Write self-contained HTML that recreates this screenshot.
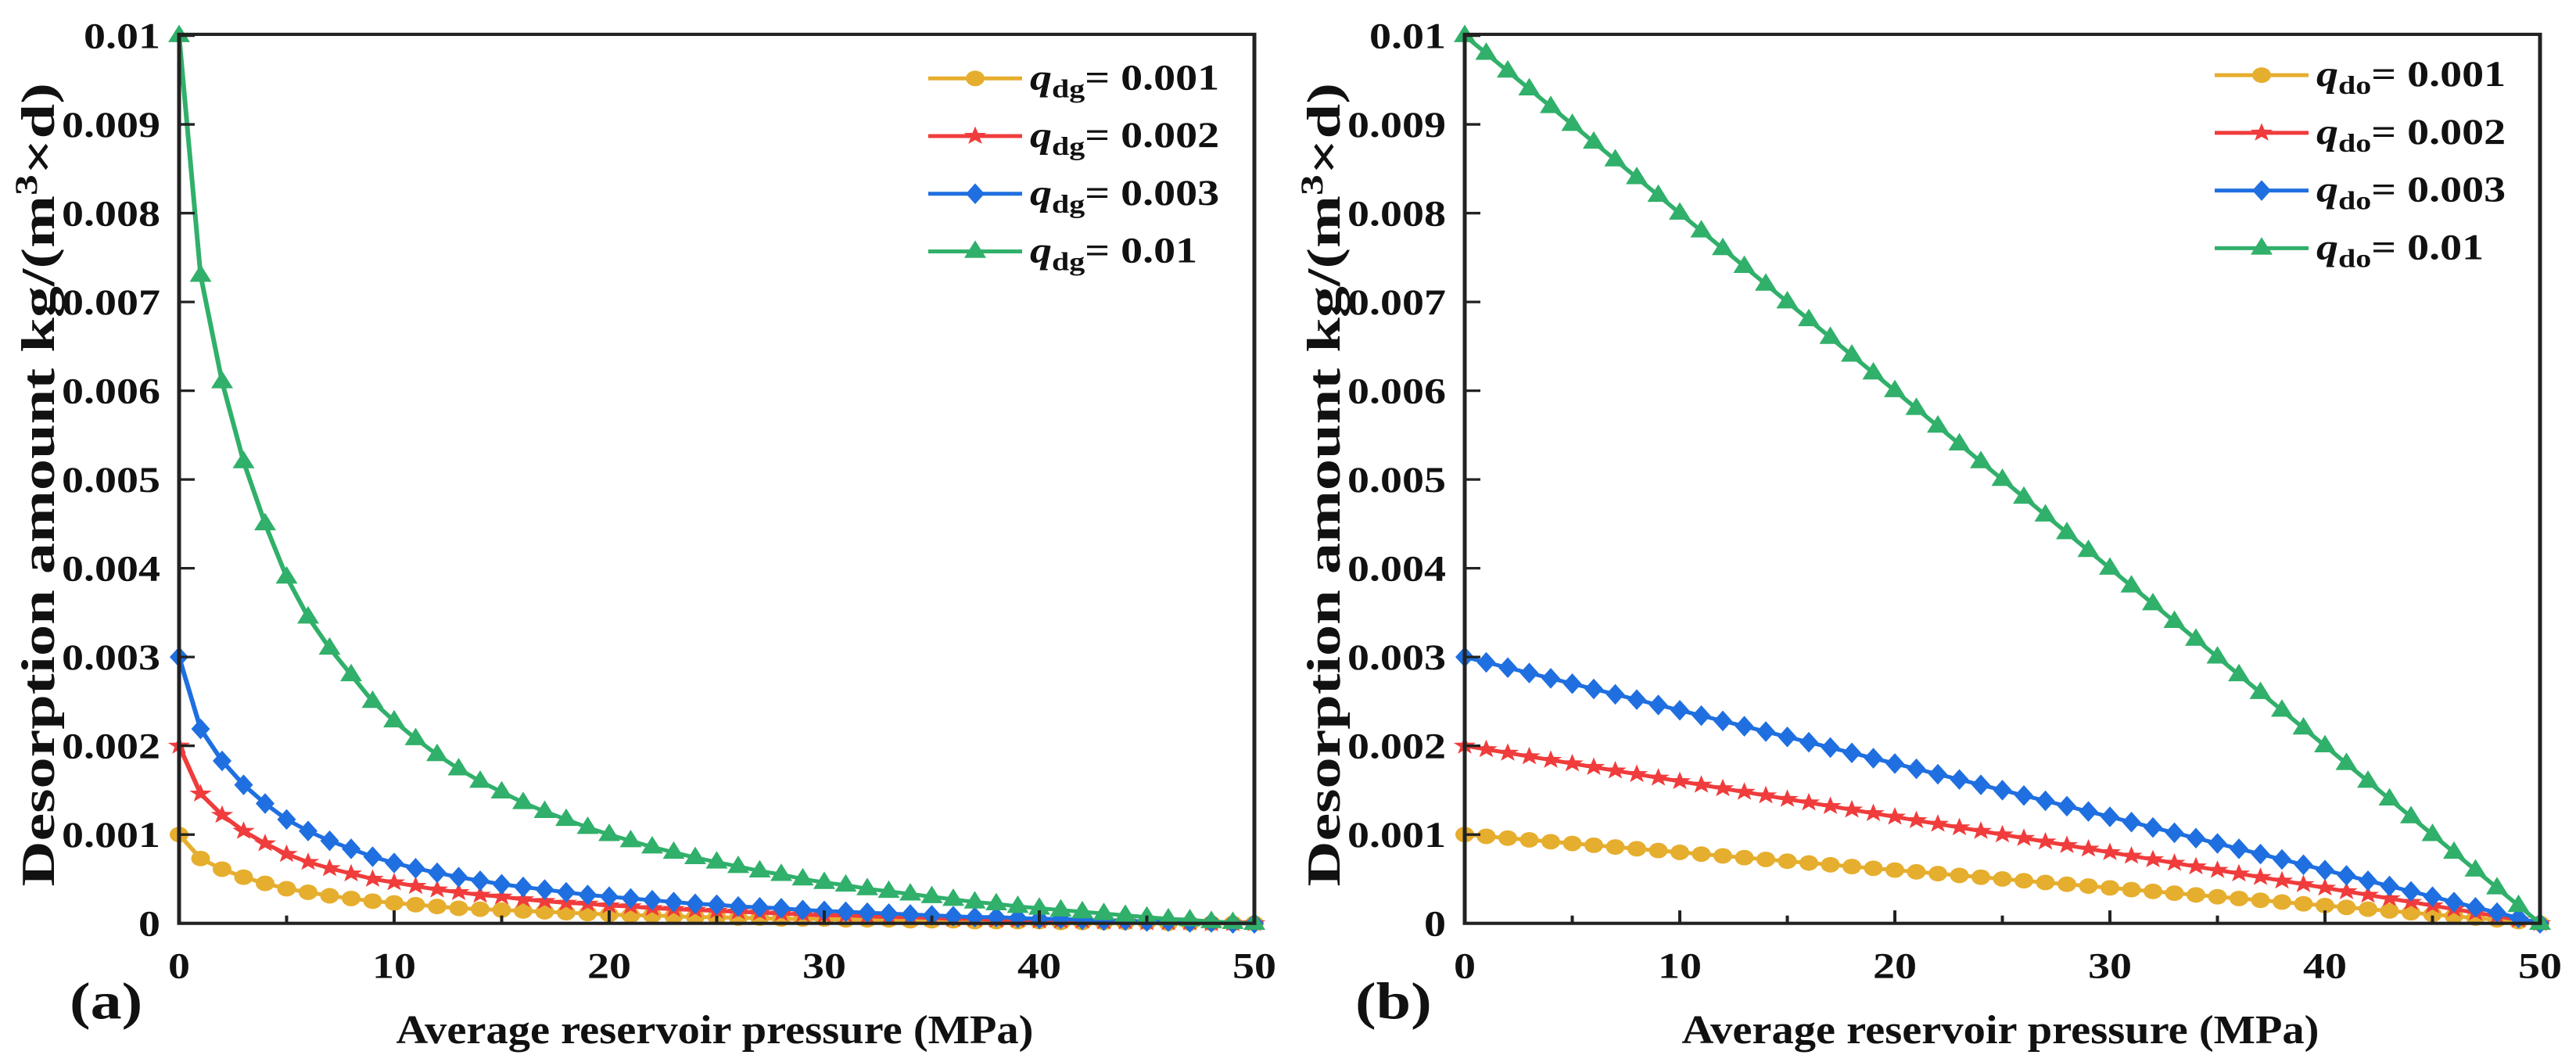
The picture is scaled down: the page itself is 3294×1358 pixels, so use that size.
<!DOCTYPE html>
<html><head><meta charset="utf-8"><style>
html,body{margin:0;padding:0;background:#fff;}
svg{display:block;}
text{font-family:"Liberation Serif",serif;font-weight:bold;fill:#111;}
</style></head><body>
<svg id="fig" width="3294" height="1358" viewBox="0 0 3294 1639" preserveAspectRatio="none" xmlns="http://www.w3.org/2000/svg"></svg>
<script>
// Data (values in units of 0.001 kg/(m3*d)), pressure 0..50 MPa step 1
const pressures = Array.from({length:51},(_, i)=>i);
const yTickLabels = ["0","0.001","0.002","0.003","0.004","0.005","0.006","0.007","0.008","0.009","0.01"];
const xTickLabels = ["0","10","20","30","40","50"];
const seriesLabelsA = ["0.001","0.002","0.003","0.01"];
const seriesLabelsB = ["0.001","0.002","0.003","0.01"];
const aYellow = [1.0,.73,.61,.52,.45,.39,.35,.31,.28,.25,.23,.21,.19,.17,.16,.15,.14,.13,.12,.11,.10,.09,.09,.08,.07,.07,.06,.06,.05,.05,.05,.04,.04,.04,.03,.03,.03,.02,.02,.02,.02,.01,.01,.01,.01,.01,0,0,0,0,0];
const aRed = [2.0,1.46,1.22,1.04,.90,.78,.69,.62,.56,.50,.46,.42,.38,.35,.32,.30,.27,.25,.23,.22,.20,.19,.17,.16,.15,.14,.13,.12,.11,.10,.09,.09,.08,.07,.07,.06,.05,.05,.04,.04,.03,.03,.03,.02,.02,.01,.01,.01,0,0,0];
const aBlue = [3.0,2.19,1.83,1.56,1.35,1.17,1.04,.93,.84,.75,.68,.62,.57,.52,.48,.44,.41,.38,.35,.32,.30,.28,.26,.24,.22,.21,.19,.18,.17,.15,.14,.13,.12,.11,.10,.09,.08,.07,.07,.06,.05,.05,.04,.03,.03,.02,.02,.01,.01,0,0];
const aGreen = [10,7.3,6.1,5.2,4.5,3.9,3.45,3.1,2.8,2.5,2.28,2.08,1.9,1.74,1.6,1.48,1.36,1.26,1.17,1.08,1.0,.93,.86,.80,.74,.69,.64,.59,.55,.50,.46,.43,.39,.36,.33,.30,.27,.24,.22,.19,.17,.15,.13,.11,.09,.07,.05,.04,.02,.01,0];
const bYellow = [1.0,.98,.96,.94,.92,.90,.88,.86,.84,.82,.80,.78,.76,.74,.72,.70,.68,.66,.64,.62,.60,.58,.56,.54,.52,.50,.48,.46,.44,.42,.40,.38,.36,.34,.32,.30,.28,.26,.24,.22,.20,.18,.16,.14,.12,.10,.08,.06,.04,.02,0];
const bRed = [2.0,1.96,1.92,1.88,1.84,1.80,1.76,1.72,1.68,1.64,1.60,1.56,1.52,1.48,1.44,1.40,1.36,1.32,1.28,1.24,1.20,1.16,1.12,1.08,1.04,1.00,.96,.92,.88,.84,.80,.76,.72,.68,.64,.60,.56,.52,.48,.44,.40,.36,.32,.28,.24,.20,.16,.12,.08,.04,0];
const bBlue = [3.0,2.94,2.88,2.82,2.76,2.70,2.64,2.58,2.52,2.46,2.40,2.34,2.28,2.22,2.16,2.10,2.04,1.98,1.92,1.86,1.80,1.74,1.68,1.62,1.56,1.50,1.44,1.38,1.32,1.26,1.20,1.14,1.08,1.02,.96,.90,.84,.78,.72,.66,.60,.54,.48,.42,.36,.30,.24,.18,.12,.06,0];
const bGreen = [10,9.8,9.6,9.4,9.2,9.0,8.8,8.6,8.4,8.2,8.0,7.8,7.6,7.4,7.2,7.0,6.8,6.6,6.4,6.2,6.0,5.8,5.6,5.4,5.2,5.0,4.8,4.6,4.4,4.2,4.0,3.8,3.6,3.4,3.2,3.0,2.8,2.6,2.4,2.2,2.0,1.8,1.6,1.4,1.2,1.0,.8,.6,.4,.2,0];

const NS="http://www.w3.org/2000/svg";
const svg=document.getElementById('fig');
const COLORS=["#E6AE2E","#F03C3C","#1F6FE0","#30B06A"];
const MARKERS=["circle","star","diamond","triangle"];
function mk(tag,attrs,parent){const e=document.createElementNS(NS,tag);for(const k in attrs)e.setAttribute(k,attrs[k]);(parent||svg).appendChild(e);return e;}

function marker(g,type,x,y,c){
  let e;
  if(type==="circle"){e=mk('circle',{cx:x,cy:y,r:12,fill:c},g);}
  else if(type==="diamond"){e=mk('polygon',{points:`${x},${y-16} ${x+12},${y} ${x},${y+16} ${x-12},${y}`,fill:c},g);}
  else if(type==="triangle"){e=mk('polygon',{points:`${x},${y-17} ${x+14},${y+10} ${x-14},${y+10}`,fill:c},g);}
  else {let p=[];for(let i=0;i<10;i++){const r=i%2?6:15;const a=-Math.PI/2+i*Math.PI/5;p.push((x+r*Math.cos(a)).toFixed(1)+","+(y+r*Math.sin(a)).toFixed(1));}
    e=mk('polygon',{points:p.join(' '),fill:c},g);}
  
  
}

function panel(ox,tag,sub,series,labels,ytx,lx,ly){
  const L=ox, R=ox+1375, T=55, B=1425;
  const xs=v=>L+(v/50)*(R-L);
  const ys=v=>B-(v/10)*(B-T);
  const g=mk('g',{});
  
  
  series.forEach((arr,si)=>{
    const sg=mk('g',{},g);
    
    
    const pl=mk('polyline',{points:arr.map((v,i)=>xs(pressures[i])+","+ys(v)).join(' '),fill:'none',stroke:COLORS[si],'stroke-width':6},sg);
    
    
    arr.forEach((v,i)=>marker(sg,MARKERS[si],xs(pressures[i]),ys(v),COLORS[si]));
  });
  const fr=mk('rect',{x:L,y:T-2,width:R-L,height:B-T+2,fill:'none',stroke:'#222','stroke-width':5},g);
  
  
  yTickLabels.forEach((lab,i)=>{
    const y=ys(i);
    const t=mk('line',{x1:L,x2:L+20,y1:y,y2:y,stroke:'#222','stroke-width':4},g);
    
    
    const tx=mk('text',{x:ytx,y:y+19,'text-anchor':'end','font-size':56},g);
    tx.textContent=lab;
    
    
  });
  for(let v=0;v<=50;v+=5){
    const t=mk('line',{x1:xs(v),x2:xs(v),y1:B,y2:B-(v%10?12:20),stroke:'#222','stroke-width':4},g);
    
    
  }
  xTickLabels.forEach(lab=>{
    const tx=mk('text',{x:xs(+lab),y:1509,'text-anchor':'middle','font-size':56},g);
    tx.textContent=lab;
    
    
  });
  const xt=mk('text',{x:L+685,y:1610,'text-anchor':'middle','font-size':62,textLength:815,lengthAdjust:'spacingAndGlyphs'},g);
  xt.textContent="Average reservoir pressure (MPa)";
  
  
  const yt=mk('text',{x:0,y:0,'text-anchor':'middle','font-size':60,textLength:1240,lengthAdjust:'spacingAndGlyphs',transform:`translate(${ox-160},748) rotate(-90)`},g);
  yt.innerHTML='Desorption amount kg/(m<tspan dy="-22" font-size="40">3</tspan><tspan dy="22">×d)</tspan>';
  
  
  const pl=mk('text',{x:ox-140,y:1572,'font-size':80},g);
  pl.textContent='('+tag+')';
  
  
  labels.forEach((lab,i)=>{
    const y=ly+i*89;
    const lg=mk('g',{},g);
    
    
    mk('line',{x1:lx,x2:lx+120,y1:y,y2:y,stroke:COLORS[i],'stroke-width':6},lg);
    marker(lg,MARKERS[i],lx+60,y,COLORS[i]);
    const tx=mk('text',{x:lx+130,y:y+17,'font-size':56},lg);
    tx.innerHTML=`<tspan font-style="italic">q</tspan><tspan font-size="40" dy="12">${sub}</tspan><tspan dy="-12">= ${lab}</tspan>`;
  });
}
panel(229,'a','dg',[aYellow,aRed,aBlue,aGreen],seriesLabelsA,205,1187,121);
panel(1873,'b','do',[bYellow,bRed,bBlue,bGreen],seriesLabelsB,1849,2832,116);
</script>
</body></html>
